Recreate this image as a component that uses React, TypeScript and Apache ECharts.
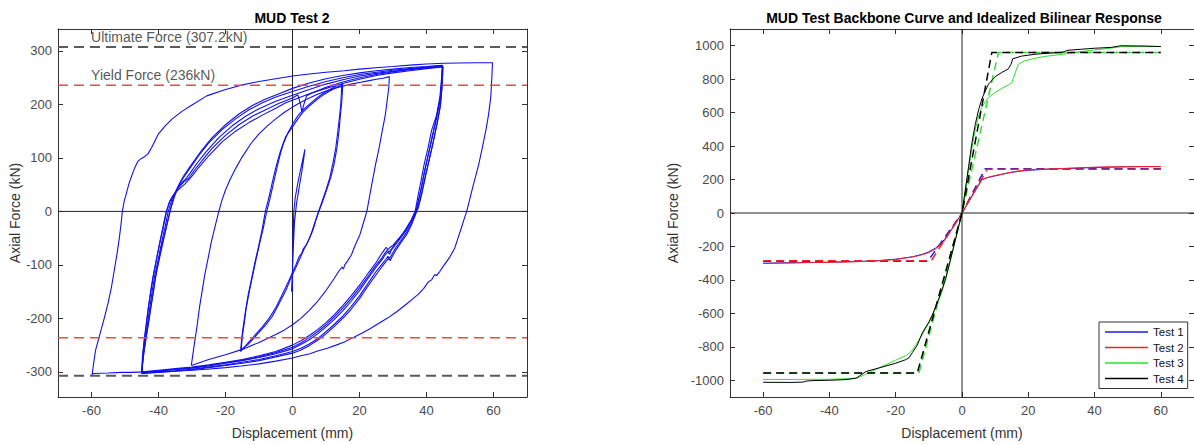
import React, { useEffect, useRef } from "react";
import * as echarts from "echarts";

// ---------- shared ticks ----------
const xTicks = [-60, -40, -20, 0, 20, 40, 60];
const leftYTicks = [-300, -200, -100, 0, 100, 200, 300];
const rightYTicks = [-1000, -800, -600, -400, -200, 0, 200, 400, 600, 800, 1000];

// ---------- left chart: MUD Test 2 hysteresis ----------
const ultimateForce = 307.2;
const yieldForce = 236;

const loop60 = [
  [-59.8, -306], [-59.5, -290], [-58.8, -260], [-57.5, -230], [-56.2, -200], [-55, -170], [-54, -140],
  [-53.2, -110], [-52.4, -80], [-51.7, -50], [-51.2, -25], [-50.8, 0], [-50.2, 20], [-49.7, 31], [-48.9, 50],
  [-48.2, 63], [-47.2, 80], [-46.1, 94], [-45.1, 99], [-44.2, 102], [-43.1, 108], [-42, 120], [-40, 145],
  [-38, 160], [-35.9, 173], [-33, 187], [-30, 199], [-25.6, 216], [-20, 228], [-15.3, 236], [-10, 243],
  [-5, 248], [0, 253], [5, 257], [10, 260], [15.5, 263], [20, 266], [25.8, 269], [30, 271], [36, 274],
  [40, 275.5], [45.3, 277], [50, 277.5], [55, 278], [59.7, 278],
  [59.5, 250], [59.2, 214], [58.5, 180], [57.7, 151], [56.7, 120], [55.6, 88], [54, 50], [53, 25], [52, 0],
  [51.2, -15], [50.4, -31], [49.4, -50], [48.4, -69], [47, -85], [45.3, -100], [44, -112], [43, -120],
  [42.5, -118], [42, -123], [41.5, -128], [40.5, -132], [39.2, -144], [37.5, -155], [36, -163], [33.5, -176],
  [31, -188], [28.5, -199], [25.8, -209], [23, -220], [20.7, -228], [18, -236], [15.5, -244], [13, -250],
  [10.4, -256], [7.5, -261], [5.2, -266], [2.5, -270], [0, -274], [-5, -280], [-10, -285], [-15.3, -289],
  [-20, -292], [-25.6, -295], [-30, -297], [-35.9, -299], [-40, -300], [-44, -300], [-48, -301], [-51, -301],
  [-55, -302], [-59.5, -303], [-60, -305],
];

const loop45A = [
  [-45, -300], [-44.5, -270], [-43.8, -240], [-43, -210], [-42.3, -180], [-41.5, -150], [-40.8, -119],
  [-39.8, -90], [-38.6, -56], [-37.6, -28], [-36.6, 0], [-35.6, 25], [-34.7, 40], [-33.5, 55], [-32.5, 66],
  [-31, 80], [-29, 98], [-27, 115], [-24, 138], [-20, 162], [-16, 182], [-12, 198], [-8, 210], [-4, 220],
  [0, 230], [5, 240], [10, 248], [15, 254], [20, 259], [25, 263], [30, 266], [35, 269], [40, 271], [44.7, 273],
  [44.5, 250], [44, 214], [43, 180], [41.5, 151], [40.5, 120], [39.3, 88], [38.3, 55], [37.5, 30], [36.6, 0],
  [35.5, -15], [34, -31], [32.5, -45], [31, -56], [30, -63], [29, -68], [28.5, -72], [28, -67], [27.3, -73],
  [26.5, -80], [25, -95], [23, -112], [20, -138], [17.5, -158], [15, -176], [12.5, -193], [10, -208],
  [7.5, -221], [5, -232], [2.5, -242], [0, -250], [-5, -262], [-10, -270], [-15, -277], [-20, -282],
  [-25, -287], [-30, -291], [-35, -294], [-40, -297], [-45, -300],
];

const loop45B = [
  [-45, -302], [-44.6, -270], [-44, -240], [-43.3, -210], [-42.6, -180], [-41.9, -150], [-41.1, -119],
  [-40.1, -90], [-39, -56], [-38, -28], [-37.1, 0], [-36, 22], [-35, 35], [-34, 46], [-33, 54], [-32, 60],
  [-30.5, 72], [-28.5, 90], [-26, 110], [-22, 138], [-18, 160], [-14, 178], [-10, 192], [-5, 206], [0, 217],
  [5, 228], [10, 238], [15, 246], [20, 253], [25, 258], [30, 262], [35, 266], [40, 269], [44.8, 272],
  [44.6, 245], [44.1, 210], [43, 175], [41.8, 140], [40.7, 110], [39.6, 80], [38.5, 45], [37.3, 10], [36.8, 0],
  [35.3, -20], [33.8, -37], [32, -52], [30.5, -64], [29.5, -72], [29, -80], [28.4, -76], [27.6, -82],
  [26.5, -92], [25, -104], [22.5, -126], [20, -148], [17.5, -168], [15, -186], [12.5, -202], [10, -216],
  [7.5, -229], [5, -240], [2.5, -249], [0, -257], [-5, -266], [-10, -273], [-15, -279], [-20, -284],
  [-25, -289], [-30, -293], [-35, -296], [-40, -299], [-45, -302],
];

const loop45C = [
  [-45, -303], [-44.7, -270], [-44.2, -240], [-43.6, -210], [-43, -180], [-42.3, -150], [-41.5, -119],
  [-40.6, -90], [-39.5, -56], [-38.5, -28], [-37.6, 0], [-36.6, 20], [-35.4, 32], [-34.3, 42], [-33.2, 50],
  [-32.3, 56], [-31, 62], [-29.5, 75], [-27, 95], [-24, 118], [-20, 142], [-16, 162], [-12, 178], [-8, 190],
  [-4, 202], [0, 212], [1.6, 218], [2.4, 200], [2.8, 186], [3.4, 200], [4.2, 216], [6, 222], [10, 232],
  [15, 242], [20, 250], [25, 256], [30, 261], [35, 265], [40, 268], [44.9, 271],
  [44.7, 240], [44.2, 200], [43.2, 165], [42, 130], [40.9, 100], [39.8, 70], [38.6, 35], [37.6, 10], [37, 0],
  [35.5, -22], [34, -40], [32.3, -55], [30.8, -68], [29.7, -80], [29, -88], [28.5, -84], [27.8, -90],
  [26.8, -98], [25, -112], [22.5, -135], [20, -158], [17.5, -178], [15, -196], [12.5, -211], [10, -225],
  [7.5, -238], [5, -248], [2.5, -256], [0, -262], [-5, -270], [-10, -277], [-15, -282], [-20, -287],
  [-25, -291], [-30, -295], [-35, -298], [-40, -300], [-45, -303],
];

const loop45D = [
  [-45, -301], [-44.4, -265], [-43.6, -232], [-42.8, -200], [-42, -168], [-41.2, -135], [-40.3, -104],
  [-39.3, -72], [-38.1, -40], [-37, -12], [-36.2, 8], [-35.2, 28], [-34.2, 44], [-33.2, 57], [-32, 68],
  [-30, 86], [-28, 104], [-25, 128], [-21, 153], [-17, 173], [-13, 190], [-9, 203], [-5, 214], [0, 224],
  [5, 234], [10, 243], [15, 250], [20, 256], [25, 260], [30, 264], [35, 267], [40, 270], [44.8, 272.5],
  [44.6, 248], [44, 205], [42.8, 170], [41.6, 138], [40.5, 105], [39.4, 75], [38.3, 40], [37.3, 12],
  [36.7, 0], [35.4, -18], [33.9, -34], [32.2, -48], [30.7, -60], [29.6, -70], [28.8, -76], [28.2, -73],
  [27.5, -79], [26.6, -88], [25, -100], [22.5, -122], [20, -143], [17.5, -163], [15, -181], [12.5, -197],
  [10, -212], [7.5, -225], [5, -236], [2.5, -246], [0, -254], [-5, -264], [-10, -272], [-15, -278],
  [-20, -283], [-25, -288], [-30, -292], [-35, -295], [-40, -298], [-45, -301],
];

const loop45E = [
  [-45, -303], [-44.8, -272], [-44.3, -242], [-43.7, -212], [-43.1, -182], [-42.4, -152], [-41.6, -121],
  [-40.7, -92], [-39.7, -60], [-38.7, -30], [-37.8, -3], [-36.8, 16], [-35.8, 28], [-34.5, 38], [-33.3, 45],
  [-32, 52], [-30, 66], [-28, 82], [-25, 104], [-21, 130], [-17, 150], [-13, 166], [-9, 180], [-5, 193],
  [-2, 203], [0, 208], [5, 220], [10, 230], [15, 239], [20, 247], [25, 254], [30, 259], [35, 263], [40, 267],
  [44.9, 270],
  [44.7, 236], [44.1, 196], [43, 160], [41.9, 126], [40.8, 96], [39.7, 66], [38.5, 30], [37.5, 6], [37.1, 0],
  [35.6, -24], [34.1, -43], [32.4, -58], [30.9, -72], [29.8, -84], [29.2, -92], [28.6, -88], [27.9, -94],
  [26.9, -102], [25, -118], [22.5, -140], [20, -163], [17.5, -183], [15, -200], [12.5, -215], [10, -229],
  [7.5, -241], [5, -251], [2.5, -259], [0, -265], [-5, -272], [-10, -279], [-15, -284], [-20, -288],
  [-25, -292], [-30, -296], [-35, -299], [-40, -301], [-45, -303],
];

const loop30 = [
  [-30.2, -288], [-29.8, -270], [-29.2, -244], [-28.5, -215], [-27.8, -181], [-27, -150], [-26.2, -119],
  [-25.2, -88], [-24.2, -56], [-23.1, -28], [-22, 0], [-21, 22], [-20, 40], [-18.6, 60], [-17, 80],
  [-15, 102], [-12.5, 126], [-10, 145], [-7.5, 160], [-5, 173], [-2.5, 185], [0, 195], [2.5, 204], [5, 212],
  [7.5, 219], [10, 225], [12.5, 230], [15, 234], [17.5, 238], [20, 241], [22.5, 244], [25, 247], [27, 249],
  [28.9, 252],
  [28.8, 235], [28.4, 214], [27.7, 180], [26.8, 151], [25.9, 120], [24.8, 88], [23.5, 45], [22.2, 0],
  [21, -25], [20.1, -44], [18.8, -62], [17.6, -81], [16.5, -92], [15.6, -100], [15.2, -108], [14.8, -104],
  [14, -110], [12.5, -125], [10, -148], [7.5, -168], [5, -185], [2.5, -200], [0, -212], [-2.5, -222],
  [-5, -230], [-10, -245], [-15, -258], [-20, -268], [-25, -277], [-30.2, -288],
];

const loop15A = [
  [-15.3, -258], [-15, -235], [-14.5, -213], [-13.8, -180], [-12.9, -150], [-11.9, -120], [-10.9, -90],
  [-9.8, -60], [-8.7, -31], [-7.7, 0], [-6.8, 22], [-6, 44], [-5.2, 66], [-4.4, 88], [-3.6, 108],
  [-2.8, 125], [-1.5, 145], [0, 163], [1.5, 178], [3.2, 190], [5, 200], [7.3, 212], [9, 220], [11.4, 229],
  [13, 234], [15, 238],
  [14.9, 225], [14.7, 205], [14.3, 180], [13.9, 151], [13.3, 120], [12.4, 88], [11.5, 65], [10.4, 44],
  [9.2, 22], [7.9, 0], [7, -16], [6.3, -31], [5.5, -44], [4.7, -56], [3.5, -70], [2.2, -88], [1, -105],
  [-0.5, -125], [-2, -148], [-4, -172], [-6, -196], [-8, -212], [-10, -226], [-12, -240], [-13.5, -250],
  [-15.3, -258],
];

const loop15B = [
  [-15.5, -262], [-15.2, -240], [-14.7, -215], [-14, -185], [-13.2, -155], [-12.2, -125], [-11.2, -95],
  [-10.1, -65], [-9.1, -35], [-8.1, 0], [-7.2, 22], [-6.4, 44], [-5.6, 66], [-4.8, 86], [-4, 104],
  [-3.2, 120], [-2, 140], [0, 158], [1.5, 172], [3.2, 186], [5, 197], [7.3, 209], [9, 217], [11.4, 226],
  [13, 231], [14.7, 236],
  [14.6, 222], [14.4, 200], [14, 175], [13.5, 148], [12.9, 118], [12, 88], [11.1, 62], [10, 40], [8.8, 18],
  [7.5, -5], [6.6, -22], [5.8, -38], [4.9, -52], [4, -64], [3.2, -70], [2.8, -78], [2, -84], [1, -100],
  [-1, -128], [-3, -155], [-5, -180], [-7, -200], [-9, -216], [-11, -230], [-13, -244], [-15.5, -262],
];

const loopSmall = [
  [0, -150], [0, -120], [0.1, -80], [0.2, -40], [0.4, 0], [0.8, 25], [1.5, 50], [2.2, 72], [3, 95],
  [3.7, 116], [3.4, 100], [2.8, 75], [2, 45], [1.2, 15], [0.6, -20], [0.3, -60], [0, -110], [-0.3, -150],
];

const hysteresisLoops = [
  loop60, loop45A, loop45B, loop45C, loop45D, loop45E, loop30, loop15A, loop15B, loopSmall,
];

// ---------- right chart: backbone curves ----------
const testNames = ["Test 1", "Test 2", "Test 3", "Test 4"];
const testColors = ["#1c1ce0", "#f0202e", "#2ee02e", "#000000"];

const test1Backbone = [
  [-60, -300], [-50, -297], [-40, -294], [-30, -289], [-25, -284], [-20, -276], [-15, -262], [-12, -247],
  [-10, -232], [-8, -210], [-6, -175], [-5, -150], [-4, -122], [-3, -92], [-2, -62], [-1, -31], [0, 0],
  [1, 33], [2, 66], [3, 99], [4, 132], [5, 165], [6, 198], [7, 207], [8, 213], [10, 222], [12, 231],
  [15, 243], [18, 251], [20, 255], [25, 261], [30, 265], [35, 268], [40, 272], [45, 274], [50, 276],
  [55, 277], [60, 277],
];
const test2Backbone = [
  [-60, -302], [-55, -300], [-50, -298], [-45, -296], [-40, -295], [-35, -293], [-30, -290], [-25, -286],
  [-20, -278], [-16, -266], [-13, -255], [-10, -237], [-8, -215], [-6, -182], [-5, -158], [-4, -128],
  [-3, -96], [-2, -64], [-1, -32], [0, 0], [1, 35], [2, 70], [3, 105], [4, 140], [5, 172], [6, 200],
  [8, 214], [10, 224], [12, 232], [15, 245], [18, 254], [20, 258], [25, 262], [30, 266], [35, 270],
  [40, 274], [45, 276], [50, 277], [55, 278], [60, 278],
];
const test3Backbone = [
  [-60, -995], [-50, -995], [-40, -994], [-35, -991], [-31.4, -986], [-29.3, -966], [-26, -935],
  [-23, -907], [-20, -880], [-16.7, -850], [-15.5, -832], [-14, -792], [-12, -728], [-10, -658],
  [-9, -618], [-8, -572], [-7, -522], [-6, -466], [-5, -402], [-4, -326], [-3, -246], [-2, -162],
  [-1, -80], [0, 0], [1, 130], [2, 260], [3, 390], [4, 500], [5, 580], [6, 632], [7, 666], [8, 690],
  [10, 720], [12, 745], [14, 765], [15, 777], [16, 835], [17, 890], [19, 910], [22, 925], [25, 936],
  [30, 948], [35, 962], [40, 975], [45, 986], [48, 994], [55, 997], [60, 995],
];
const test4Backbone = [
  [-60, -1012], [-52, -1013], [-48, -1011], [-47, -1005], [-45, -1002], [-40, -1000], [-35, -996],
  [-32, -988], [-31, -975], [-29, -948], [-25, -926], [-20, -898], [-17, -877], [-16, -866], [-15, -835],
  [-13.5, -790], [-12, -717], [-10, -652], [-9, -612], [-8, -562], [-7, -512], [-6, -456], [-5, -396],
  [-4, -320], [-3, -240], [-2, -160], [-1, -80], [0, 0], [1, 140], [2, 280], [3, 420], [4, 530], [5, 616],
  [6, 682], [7, 730], [8, 770], [10, 815], [12, 840], [14, 862], [14.8, 890], [15.3, 922], [18, 938],
  [22, 949], [26, 955], [30, 960], [31, 966], [32, 973], [36, 979], [40, 985], [45, 990], [48, 1000],
  [55, 998], [60, 995],
];

const bilinear1 = [[-60, -288], [-10.3, -288], [0, 0], [7, 265], [60, 265]];
const bilinear2 = [[-60, -286], [-9.3, -286], [0, 0], [7.6, 262], [60, 262]];
const bilinear3 = [[-60, -957], [-13, -957], [0, 0], [11, 960], [60, 960]];
const bilinear4 = [[-60, -957], [-13.5, -957], [0, 0], [9, 960], [60, 960]];

const backbones = [test1Backbone, test2Backbone, test3Backbone, test4Backbone];
const bilinears = [bilinear1, bilinear2, bilinear3, bilinear4];

// ---------- styling ----------
const FONT = "'Liberation Sans', Arial, Helvetica, sans-serif";
const AXIS_COLOR = "#333333";
const LABEL_COLOR = "#4a4a4a";

const plainNumber = (v: number) => String(v);

function makeX(gridIndex: number, position: "bottom" | "top") {
  const bottom = position === "bottom";
  return {
    gridIndex,
    type: "value",
    min: -70,
    max: 70,
    position,
    axisLine: { show: true, onZero: false, lineStyle: { color: AXIS_COLOR, width: 1 } },
    axisTick: { show: true, inside: true, length: 5, customValues: xTicks, lineStyle: { color: AXIS_COLOR } },
    axisLabel: {
      show: bottom,
      customValues: xTicks,
      formatter: plainNumber,
      color: LABEL_COLOR,
      fontSize: 13,
      fontFamily: FONT,
      margin: 7,
    },
    splitLine: { show: false },
    name: bottom ? "Displacement (mm)" : "",
    nameLocation: "middle",
    nameGap: 29,
    nameTextStyle: { fontSize: 14, color: "#333", fontFamily: FONT },
  };
}

function makeY(gridIndex: number, position: "left" | "right", min: number, max: number, ticks: number[], nameGap: number) {
  const left = position === "left";
  return {
    gridIndex,
    type: "value",
    min,
    max,
    position,
    axisLine: { show: true, onZero: false, lineStyle: { color: AXIS_COLOR, width: 1 } },
    axisTick: { show: true, inside: true, length: 5, customValues: ticks, lineStyle: { color: AXIS_COLOR } },
    axisLabel: {
      show: left,
      customValues: ticks,
      formatter: plainNumber,
      color: LABEL_COLOR,
      fontSize: 13,
      fontFamily: FONT,
      margin: 6,
    },
    splitLine: { show: false },
    name: left ? "Axial Force (kN)" : "",
    nameLocation: "middle",
    nameRotate: 90,
    nameGap,
    nameTextStyle: { fontSize: 14, color: "#333", fontFamily: FONT },
  };
}

function lineSeries(name: string, data: number[][], xi: number, yi: number, color: string, width: number, type: any, z = 2) {
  return {
    type: "line",
    name,
    data,
    xAxisIndex: xi,
    yAxisIndex: yi,
    symbol: "none",
    showSymbol: false,
    silent: true,
    z,
    lineStyle: { color, width, type },
    itemStyle: { color },
  };
}

function buildOption() {
  const series: any[] = [];

  // left chart
  hysteresisLoops.forEach((loop, i) => {
    series.push(lineSeries("loop" + i, loop, 0, 0, "#1010f0", 1.1, "solid", 3));
  });
  series.push(lineSeries("zeroX_L", [[-70, 0], [70, 0]], 0, 0, "#222", 1, "solid", 2));
  series.push(lineSeries("zeroY_L", [[0, -347], [0, 341]], 0, 0, "#222", 1, "solid", 2));
  series.push(lineSeries("ultPos", [[-70, ultimateForce], [70, ultimateForce]], 0, 0, "#5a5a5a", 2, [10, 6], 4));
  series.push(lineSeries("ultNeg", [[-70, -ultimateForce], [70, -ultimateForce]], 0, 0, "#5a5a5a", 2, [10, 6], 4));
  series.push(lineSeries("yldPos", [[-70, yieldForce], [70, yieldForce]], 0, 0, "#f04848", 1.5, [10, 6], 4));
  series.push(lineSeries("yldNeg", [[-70, -yieldForce], [70, -yieldForce]], 0, 0, "#f04848", 1.5, [10, 6], 4));
  series.push({
    type: "scatter",
    name: "annotations",
    xAxisIndex: 0,
    yAxisIndex: 0,
    silent: true,
    symbolSize: 0.1,
    itemStyle: { color: "transparent" },
    z: 5,
    data: [
      { value: [-60.1, ultimateForce], name: "Ultimate Force (307.2kN)" },
      { value: [-60.1, yieldForce], name: "Yield Force (236kN)" },
    ],
    label: {
      show: true,
      formatter: "{b}",
      position: [0, -17],
      align: "left",
      verticalAlign: "top",
      color: "#2a2a2a",
      fontSize: 14,
      fontFamily: FONT,
    },
  });

  // right chart
  series.push(lineSeries("zeroX_R", [[-70, 0], [70, 0]], 2, 2, "#222", 1, "solid", 1));
  series.push(lineSeries("zeroY_R", [[0, -1100], [0, 1100]], 2, 2, "#222", 1, "solid", 1));
  backbones.forEach((bb, i) => {
    series.push(lineSeries(testNames[i], bb, 2, 2, testColors[i], 1, "solid", 3));
    series.push(lineSeries(testNames[i] + " bilinear", bilinears[i], 2, 2, testColors[i], 1.5, [8, 5], 3));
  });

  return {
    animation: false,
    backgroundColor: "#ffffff",
    textStyle: { fontFamily: FONT },
    title: [
      {
        text: "MUD Test 2",
        left: 292,
        top: 11,
        textAlign: "center",
        padding: 0,
        textStyle: { fontSize: 14, fontWeight: "bold", color: "#000", fontFamily: FONT },
      },
      {
        text: "MUD Test Backbone Curve and Idealized Bilinear Response",
        left: 964,
        top: 11,
        textAlign: "center",
        padding: 0,
        textStyle: { fontSize: 14, fontWeight: "bold", color: "#000", fontFamily: FONT },
      },
    ],
    grid: [
      { left: 58, top: 29, width: 469, height: 369, containLabel: false },
      { left: 730, top: 29, width: 468, height: 369, containLabel: false },
    ],
    xAxis: [makeX(0, "bottom"), makeX(0, "top"), makeX(1, "bottom"), makeX(1, "top")],
    yAxis: [
      makeY(0, "left", -347, 341, leftYTicks, 34),
      makeY(0, "right", -347, 341, leftYTicks, 34),
      makeY(1, "left", -1100, 1100, rightYTicks, 50),
      makeY(1, "right", -1100, 1100, rightYTicks, 50),
    ],
    legend: {
      data: testNames,
      orient: "vertical",
      left: 1099,
      top: 322,
      padding: [4, 4, 4, 6],
      itemGap: 3.5,
      itemWidth: 43,
      itemHeight: 1.4,
      icon: "rect",
      borderColor: "#333",
      borderWidth: 1,
      backgroundColor: "#fff",
      textStyle: { fontSize: 11.5, color: "#111", fontFamily: FONT, lineHeight: 12 },
      selectedMode: false,
    },
    series,
  };
}

export default function App() {
  const ref = useRef<HTMLDivElement>(null);
  useEffect(() => {
    const chart = echarts.init(ref.current!, null, { renderer: "svg" });
    chart.setOption(buildOption() as any);
    return () => chart.dispose();
  }, []);
  return (
    <div
      ref={ref}
      style={{ position: "fixed", left: 0, top: 0, width: 1194, height: 445, background: "#fff" }}
    />
  );
}
